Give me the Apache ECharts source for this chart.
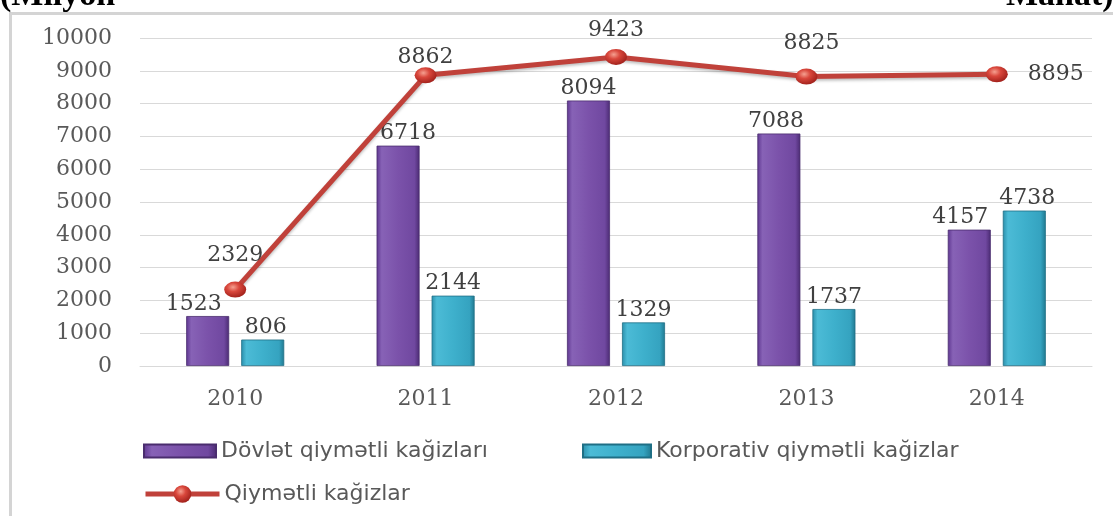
<!DOCTYPE html>
<html>
<head>
<meta charset="utf-8">
<script src="https://cdn.jsdelivr.net/npm/echarts@6/dist/echarts.min.js"></script>
<style>
html,body{margin:0;padding:0;background:#fff;}
#c{width:1113px;height:516px;}
</style>
</head>
<body>
<div id="c"></div>
<script>
var categories = ['2010', '2011', '2012', '2013', '2014'];
var govValues = [1523, 6718, 8094, 7088, 4157];
var corpValues = [806, 2144, 1329, 1737, 4738];
var totalValues = [2329, 8862, 9423, 8825, 8895];
var yTicks = { min: 0, max: 10000, interval: 1000 };
var seriesNames = ['Dövlət qiymətli kağizları', 'Korporativ qiymətli kağizlar', 'Qiymətli kağizlar'];

// label placement styles (not data)
var govLabelOffsets = [[-14, 0], [10, 0], [0, 0], [-3, 0], [-9, 0]];
var corpLabelOffsets = [[3, 0], [0, 0], [0, 0], [0, 0], [3, 0]];
var totalLabelStyle = [
  { position: 'top', distance: 15 },
  { position: 'top', distance: -1 },
  { position: 'top', distance: 8 },
  { position: 'top', distance: 14, offset: [5, 0] },
  { position: 'right', distance: 20 }
];

var serif = 'DejaVu Serif';
var sans = 'DejaVu Sans';

var purpleGrad = new echarts.graphic.LinearGradient(0, 0, 1, 0, [
  { offset: 0, color: '#5e3690' },
  { offset: 0.12, color: '#8762b6' },
  { offset: 0.5, color: '#7b52aa' },
  { offset: 0.88, color: '#7048a0' },
  { offset: 1, color: '#4a2a72' }
]);
var cyanGrad = new echarts.graphic.LinearGradient(0, 0, 1, 0, [
  { offset: 0, color: '#2a8eaa' },
  { offset: 0.12, color: '#4cbbd6' },
  { offset: 0.5, color: '#3eb0cc' },
  { offset: 0.88, color: '#35a3c0' },
  { offset: 1, color: '#20788f' }
]);
var dotGrad = new echarts.graphic.RadialGradient(0.4, 0.35, 0.7, [
  { offset: 0, color: '#f5a090' },
  { offset: 0.4, color: '#d9473c' },
  { offset: 1, color: '#9c1d18' }
]);

var barLabel = { show: true, position: 'top', distance: 1, color: '#404040', fontFamily: serif, fontSize: 22 };
var legendText = { color: '#595959', fontFamily: sans, fontSize: 22 };

var option = {
  animation: false,
  backgroundColor: '#fff',
  grid: { left: 140, right: 21, top: 38, bottom: 150, containLabel: false },
  xAxis: {
    type: 'category',
    data: categories,
    axisLine: { show: true, lineStyle: { color: '#d9d9d9', width: 1 } },
    axisTick: { show: false },
    axisLabel: { color: '#595959', fontFamily: serif, fontSize: 22, margin: 22 }
  },
  yAxis: {
    type: 'value',
    min: yTicks.min, max: yTicks.max, interval: yTicks.interval,
    axisLine: { show: false },
    axisTick: { show: false },
    splitLine: { lineStyle: { color: '#d9d9d9', width: 1 } },
    axisLabel: { color: '#595959', fontFamily: serif, fontSize: 22, margin: 28, formatter: function (v) { return String(v); } }
  },
  legend: [
    {
      data: [{ name: seriesNames[0], icon: 'rect' }], left: 138, top: 435, itemWidth: 72, itemHeight: 13,
      textStyle: legendText
    },
    {
      data: [{ name: seriesNames[1], icon: 'rect' }], left: 577, top: 435, itemWidth: 68, itemHeight: 13,
      textStyle: legendText
    },
    {
      data: [seriesNames[2]], left: 138, top: 478, itemWidth: 74, itemHeight: 22,
      lineStyle: { width: 5, color: '#c0413a' },
      textStyle: legendText
    }
  ],
  series: [
    {
      name: seriesNames[0], type: 'bar', barWidth: 43, barGap: '28%',
      itemStyle: { color: purpleGrad, borderColor: '#4a2d6e', borderWidth: 0.8 },
      data: govValues.map(function (v, i) { return { value: v, label: { offset: govLabelOffsets[i] } }; }),
      label: barLabel
    },
    {
      name: seriesNames[1], type: 'bar', barWidth: 43, barGap: '28%',
      itemStyle: { color: cyanGrad, borderColor: '#1f6f85', borderWidth: 0.8 },
      data: corpValues.map(function (v, i) { return { value: v, label: { offset: corpLabelOffsets[i] } }; }),
      label: barLabel
    },
    {
      name: seriesNames[2], type: 'line', z: 5,
      symbol: 'circle', symbolSize: [22, 16],
      lineStyle: { color: '#c0413a', width: 5, shadowColor: 'rgba(0,0,0,0.25)', shadowBlur: 3, shadowOffsetY: 2 },
      itemStyle: { color: dotGrad, borderWidth: 0 },
      label: { show: true, color: '#404040', fontFamily: serif, fontSize: 22 },
      data: totalValues.map(function (v, i) { return { value: v, label: totalLabelStyle[i] }; })
    }
  ],
  graphic: [
    { type: 'rect', left: 8, top: 11, shape: { width: 1300, height: 700 }, style: { fill: 'none', stroke: '#d4d4d4', lineWidth: 3 }, z: -1 },
    { type: 'text', left: 0, top: -21, style: { text: '(Milyon', font: 'bold 34px "Liberation Serif"', fill: '#000' } },
    { type: 'text', left: 1006, top: -21, style: { text: 'Manat)', font: 'bold 34px "Liberation Serif"', fill: '#000' } }
  ]
};

var chart = echarts.init(document.getElementById('c'), null, { renderer: 'canvas' });
chart.setOption(option);
</script>
</body>
</html>
